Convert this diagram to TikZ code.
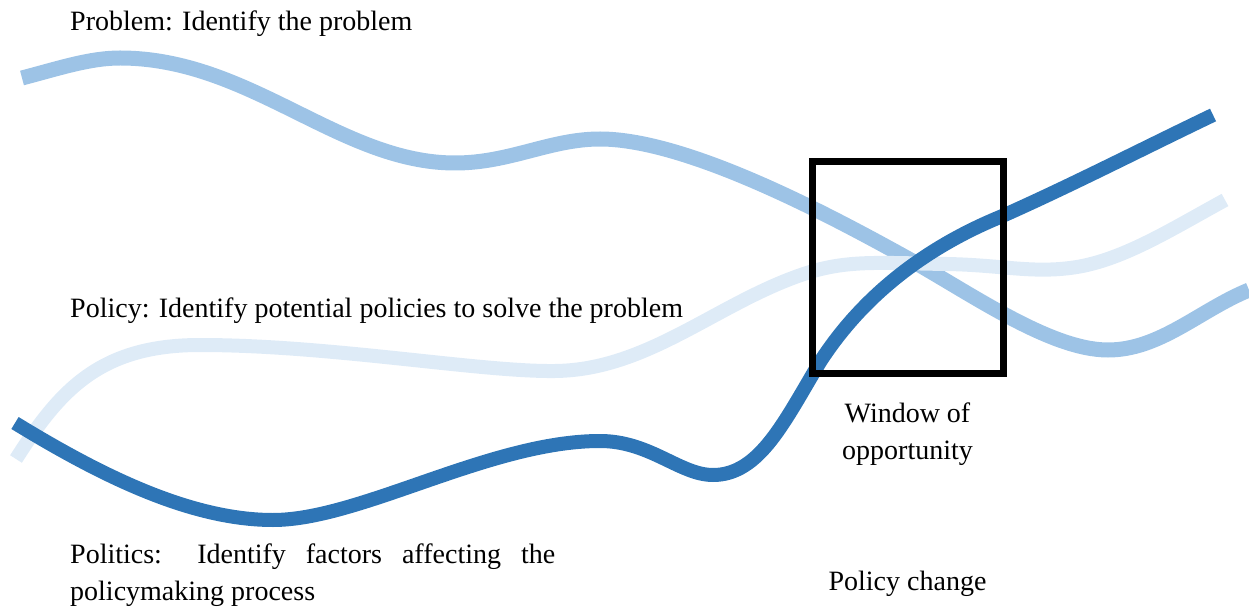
\documentclass[tikz,border=0pt]{standalone}
\usepackage{fontspec}
\setmainfont{Liberation Serif}
\usepackage{tikz}
\usetikzlibrary{positioning}
\definecolor{ProblemBlue}{HTML}{9DC3E6}
\definecolor{PolicyBlue}{HTML}{DEEBF7}
\definecolor{PoliticsBlue}{HTML}{2E75B6}

\begin{document}
\begin{tikzpicture}[
  x=1pt,y=-1pt,
  node distance=26pt,
  stream/.style={line width=14pt},
  caption/.style={inner sep=0pt,font=\fontsize{28}{37}\selectfont,text=black},
  window/.style={draw=black,line width=7pt,minimum width=191pt,minimum height=211pt}
]
\useasboundingbox (0,0) rectangle (1249,609);
% problem stream
\draw[stream,draw=ProblemBlue,line width=15pt] (22,78)
  .. controls (60,68) and (90,58) .. (120,58)
  .. controls (250,58) and (340,163) .. (455,163)
  .. controls (510,163) and (550,139) .. (600,139)
  .. controls (690,139) and (840,221) .. (907,258)
  .. controls (970,293) and (1050,350) .. (1108,350)
  .. controls (1160,350) and (1200,310) .. (1249,290);
% policy stream
\draw[stream,draw=PolicyBlue] (16,459)
  .. controls (60,390) and (100,345) .. (200,345)
  .. controls (330,345) and (480,372) .. (555,371)
  .. controls (650,370) and (720,300) .. (810,272)
  .. controls (850,260) and (880,263) .. (947,264)
  .. controls (1000,265) and (1030,273) .. (1070,268)
  .. controls (1120,262) and (1170,230) .. (1225,200);
% politics stream
\draw[stream,draw=PoliticsBlue] (15,423)
  .. controls (100,475) and (190,520) .. (273,520)
  .. controls (360,520) and (490,441) .. (600,441)
  .. controls (650,441) and (680,475) .. (713,475)
  .. controls (760,475) and (785,420) .. (820,362)
  .. controls (860,300) and (920,250) .. (1000,217)
  .. controls (1070,186) and (1140,150) .. (1213,115);
% window where they meet
\node[window] (win) at (907.5,267.5) {};
\node[caption,align=center,below=of win] (winlabel) {Window of\\opportunity};
\node[caption,below=105pt of winlabel] (change) {Policy change};
% stream labels
\node[caption,anchor=base west] (problem) at (70,31) {Problem: Identify the problem};
\node[caption,anchor=base west] (policy) at (70,317) {Policy: Identify potential policies to solve the problem};
\node[caption,anchor=north west,text width=485pt,align=justify] (politics) at (70,544) {Politics: Identify factors affecting the \mbox{policymaking} process};
\end{tikzpicture}
\end{document}
